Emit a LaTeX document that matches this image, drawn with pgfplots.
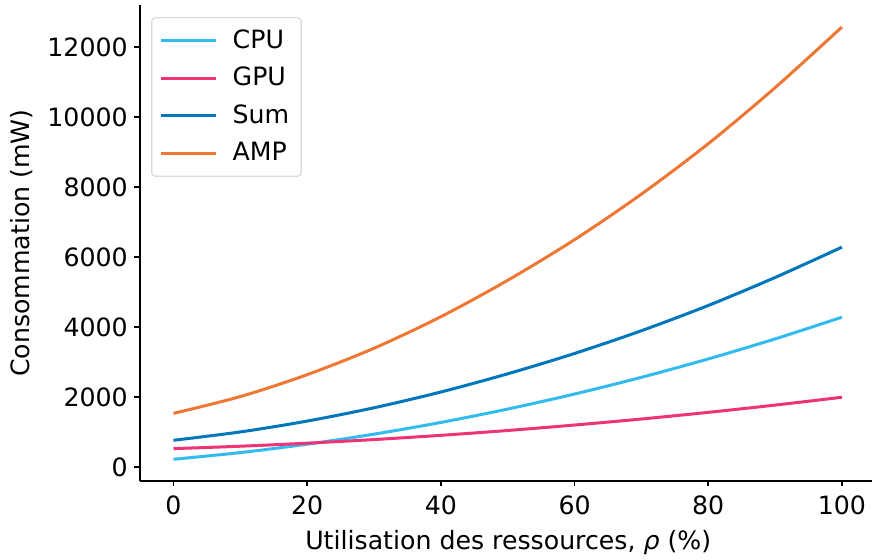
\documentclass[border=0pt]{standalone}
\usepackage{fontspec}
\setmainfont{DejaVu Sans}
\usepackage{pgfplots}
\pgfplotsset{compat=1.18}
\definecolor{cpu}{HTML}{33BBEE}
\definecolor{gpu}{HTML}{EE3377}
\definecolor{sumc}{HTML}{0077BB}
\definecolor{amp}{HTML}{EE7733}
\begin{document}
\fontsize{12.6}{15}\selectfont
\begin{tikzpicture}
\begin{axis}[
  name=ax,
  scale only axis, width=365.75pt, height=237.6pt,
  xmin=-5, xmax=104.5, ymin=-388, ymax=13189,
  axis lines=left, axis line style={-, line width=0.8pt},
  tick align=outside, major tick length=2.8pt,
  every tick/.style={black, line width=0.8pt},
  xtick={0,20,...,100}, ytick={0,2000,...,12000},
  scaled y ticks=false,
  /pgf/number format/.cd, 1000 sep={}, assume math mode=true, /pgfplots/.cd,
  tick label style={font=\fontsize{12.6}{15}\selectfont},
  yticklabel style={inner xsep=3.2pt},
  label style={font=\fontsize{12.6}{15}\selectfont},
  xlabel={Utilisation des ressources, \textit{ρ} (\%)},
  ylabel={Consommation (mW)},
  xlabel style={at={(axis description cs:0.503,0)}, anchor=center, yshift=-30.7pt},
  ylabel style={at={(axis description cs:-0.1613,0.5)}, anchor=center, rotate=0},
  legend cell align=left,
  legend style={at={([xshift=5.5pt,yshift=-5.8pt]rel axis cs:0,1)}, anchor=north west, draw=black!15, line width=0.6pt,
    rounded corners=2pt, inner xsep=4pt, inner ysep=4pt, row sep=3.5pt,
    font=\fontsize{12.6}{15}\selectfont},
  legend image code/.code={\draw[#1, line width=1.5pt] (0pt,0pt) -- (27.5pt,0pt); \path (33pt,0pt);},
  every axis plot/.append style={line width=1.5pt, smooth},
]
\addplot[cpu] coordinates {(0,229) (10,420) (20,660) (30,946) (40,1281) (50,1663) (60,2092) (70,2569) (80,3094) (90,3666) (100,4286)};
\addlegendentry{CPU}
\addplot[gpu] coordinates {(0,533) (10,602) (20,689) (30,792) (40,913) (50,1051) (60,1207) (70,1379) (80,1569) (90,1776) (100,2000)};
\addlegendentry{GPU}
\addplot[sumc] coordinates {(0,771) (10,1010) (20,1320) (30,1700) (40,2150) (50,2670) (60,3250) (70,3900) (80,4620) (90,5420) (100,6286)};
\addlegendentry{Sum}
\addplot[amp] coordinates {(0,1540) (10,2020) (20,2645) (30,3400) (40,4300) (50,5340) (60,6500) (70,7800) (80,9240) (90,10840) (100,12572)};
\addlegendentry{AMP}
\end{axis}
\pgfresetboundingbox
\path ([xshift=-70pt,yshift=-39.2pt]ax.south west) rectangle ([yshift=2.7pt]ax.north east);
\end{tikzpicture}
\end{document}
